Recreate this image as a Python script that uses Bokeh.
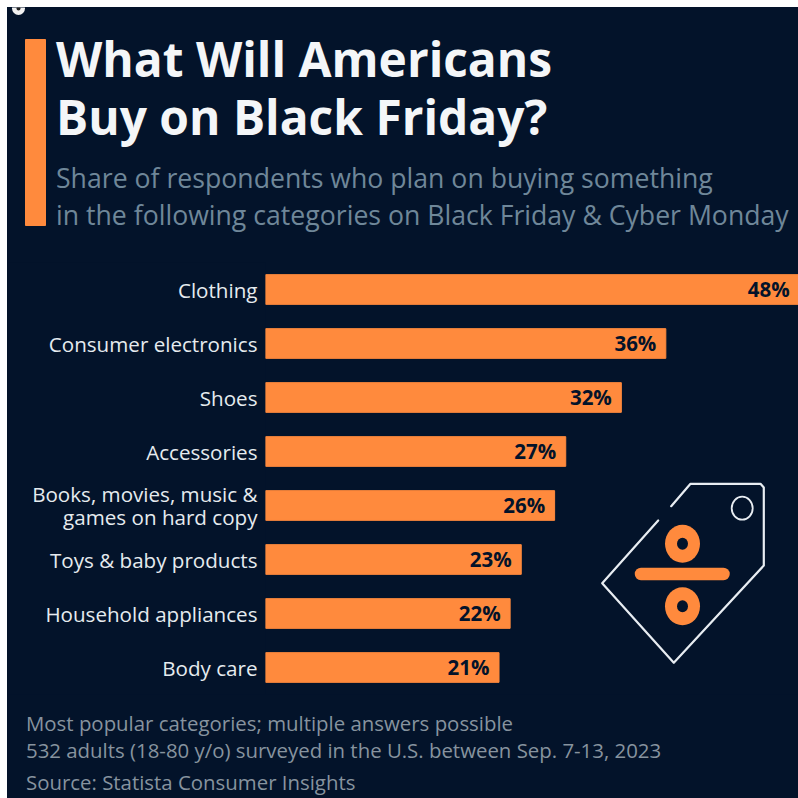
from bokeh.plotting import figure
from bokeh.layouts import column
from bokeh.models import FixedTicker, Range1d, ColumnDataSource
from bokeh.core.properties import value
from bokeh.embed import file_html
from bokeh.resources import INLINE

categories = ["Clothing", "Consumer electronics", "Shoes", "Accessories",
              "Books, movies, music &\ngames on hard copy", "Toys & baby products",
              "Household appliances", "Body care"]
shares = [48, 36, 32, 27, 26, 23, 22, 21]
share_labels = [f"{s}%" for s in shares]
title_lines = ["What Will Americans", "Buy on Black Friday?"]
subtitle_lines = ["Share of respondents who plan on buying something",
                  "in the following categories on Black Friday & Cyber Monday"]
footer_lines = ["Most popular categories; multiple answers possible",
                "532 adults (18-80 y/o) surveyed in the U.S. between Sep. 7-13, 2023",
                "Source: Statista Consumer Insights"]

BG = "#03132a"
ORANGE = "#ff8a3d"
WHITE = "#e8edf2"
FONT = "Open Sans"
OFF = 7
W = 798 - OFF
PX_PER_PCT = 11.12
FRAME_L, FRAME_R, FRAME_T, FRAME_B = 265, 798, 262, 694
rows = list(range(len(categories)))


def band(top, bottom):
    f = figure(width=W, height=bottom - top, output_backend="svg", toolbar_location=None,
               x_range=Range1d(OFF, 798), y_range=Range1d(bottom, top),
               x_axis_location=None, y_axis_location=None,
               min_border_left=0, min_border_right=0, min_border_top=0, min_border_bottom=0,
               background_fill_color=BG, border_fill_color=BG, outline_line_color=None,
               frame_align=False)
    f.grid.visible = False
    f.styles = {"background-color": BG}
    return f


def lines(f, texts, x, ys, size, color, style="normal"):
    f.text(x=[x] * len(texts), y=ys, text=texts, text_align="left", text_baseline="middle",
           text_font=value(FONT), text_font_size=size, text_font_style=style, text_color=color)


# header
head = band(OFF, FRAME_T)
head.quad(left=[25], right=[45], top=[39], bottom=[225], color=ORANGE)
head.scatter([18], [8], size=13, marker="circle", fill_color="#f2f2f2", line_color=None)
head.scatter([18], [8], size=4, marker="circle", fill_color="#222222", line_color=None)
lines(head, title_lines, 55.5, [58, 116], "47.9px", "#f4f6f8", "bold")
lines(head, subtitle_lines, 55.5, [177.5, 214.5], "26.65px", "#6f8799")

# chart
p = figure(width=W, height=FRAME_B - FRAME_T, output_backend="svg", toolbar_location=None,
           x_range=Range1d(0, (FRAME_R - FRAME_L) / PX_PER_PCT),
           y_range=Range1d(len(categories) - 0.5, -0.5),
           x_axis_location=None,
           min_border_left=FRAME_L - OFF, min_border_right=0,
           min_border_top=0, min_border_bottom=0,
           background_fill_color=BG, background_fill_alpha=0,
           border_fill_color=BG, outline_line_color=None, frame_align=False)
p.styles = {"background-color": BG}
p.grid.visible = False
ax = p.yaxis[0]
ax.ticker = FixedTicker(ticks=rows)
ax.major_label_overrides = dict(zip(rows, categories))
ax.axis_line_color = None
ax.major_tick_line_color = None
ax.minor_tick_line_color = None
ax.major_tick_out = 0
ax.major_tick_in = 0
ax.major_label_standoff = 8
ax.major_label_text_font = FONT
ax.major_label_text_font_size = "20.6px"
ax.major_label_text_color = "#e6ebef"
ax.major_label_text_line_height = 0.82

src = ColumnDataSource(dict(row=rows, v=shares, lab=share_labels))
p.hbar(y="row", left=0, right="v", height=0.55, source=src, color=ORANGE)
p.text(x="v", y="row", text="lab", source=src, x_offset=-9.5, y_offset=-0.5, text_align="right",
       text_baseline="middle", text_font=value(FONT), text_font_style="bold",
       text_font_size="20.5px", text_color="#03132a")

# icon, drawn in page pixels on an auxiliary pair of ranges
p.extra_x_ranges["px"] = Range1d(FRAME_L, FRAME_R)
p.extra_y_ranges["py"] = Range1d(FRAME_B, FRAME_T)
kw = dict(x_range_name="px", y_range_name="py")
p.line([670.7, 690, 760, 763.3, 763.3, 673.3, 601.7, 657.7],
       [505.7, 483.3, 483.3, 487, 565, 662.3, 582.7, 520],
       line_color=WHITE, line_width=2.2, line_join="round", line_cap="round", **kw)
p.ellipse([741.7], [507.7], width=21, height=23, fill_color=None,
          line_color=WHITE, line_width=1.8, **kw)
p.ellipse([682, 682], [543.3, 605.7], width=35, height=38, fill_color=ORANGE, line_color=None, **kw)
p.ellipse([682, 682], [543.3, 605.7], width=11, height=12, fill_color=BG, line_color=None, **kw)
p.line([640.5, 723], [573.5, 573.5], line_color=ORANGE, line_width=12.5, line_cap="round", **kw)

# footer
foot = band(FRAME_B, 798)
lines(foot, footer_lines, 25.5, [722.5, 749.5, 781], "20.4px", "#87939f")

page = column(head, p, foot, spacing=0, margin=(OFF, 0, 0, OFF))
page.styles = {"background-color": BG}
open("out.html", "w").write(file_html(page, INLINE))
